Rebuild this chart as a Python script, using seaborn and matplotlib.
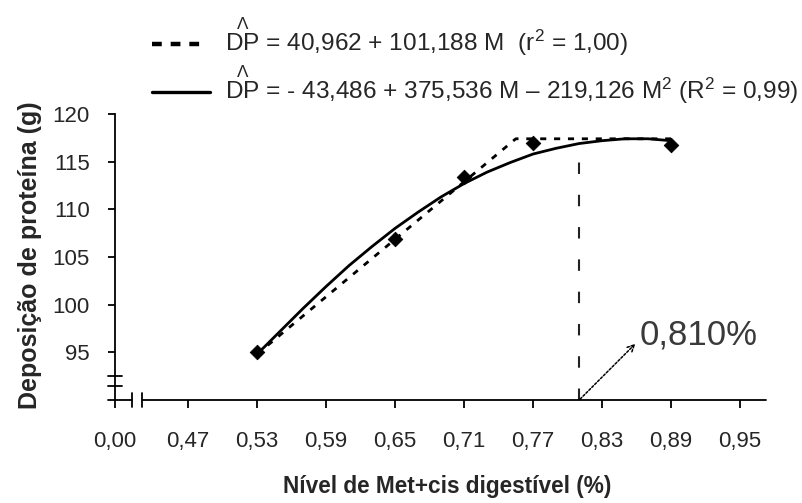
import matplotlib
matplotlib.use("Agg")
import matplotlib.pyplot as plt
from matplotlib.lines import Line2D
import seaborn as sns
import pandas as pd

# ---- data ----
met_obs = [0.53, 0.65, 0.71, 0.77, 0.89]
dp_obs = [95.0, 106.9, 113.4, 117.0, 116.8]

# quadratic fit curve
quad_x = [0.53, 0.55, 0.57, 0.59, 0.61, 0.63, 0.65, 0.67, 0.69, 0.71,
          0.73, 0.75, 0.77, 0.79, 0.81, 0.83, 0.85, 0.87, 0.89]
quad_y = [94.8, 97.2, 99.6, 101.9, 104.1, 106.1, 108.0, 109.7, 111.3, 112.7,
          113.9, 114.9, 115.8, 116.4, 116.9, 117.2, 117.4, 117.4, 117.2]

# linear-plateau fit (dashed line vertices)
lrp_x = [0.53, 0.755, 0.89]
lrp_y = [94.8, 117.4, 117.4]

optimum_x = 0.81
optimum_y = 116.9
optimum_label = "0,810%"

xtick_vals = [0.47, 0.53, 0.59, 0.65, 0.71, 0.77, 0.83, 0.89, 0.95]
xtick_labels = ["0,47", "0,53", "0,59", "0,65", "0,71", "0,77", "0,83", "0,89", "0,95"]
zero_label = "0,00"
ytick_vals = [95, 100, 105, 110, 115, 120]
ytick_labels = ["95", "100", "105", "110", "115", "120"]

eq1 = r"$\overset{\Lambda}{\mathrm{DP}}$ = 40,962 + 101,188 M  (r$^{2}$ = 1,00)"
eq2 = r"$\overset{\Lambda}{\mathrm{DP}}$ = - 43,486 + 375,536 M – 219,126 M$^{2}$ (R$^{2}$ = 0,99)"
ylabel = "Deposição de proteína (g)"
xlabel = "Nível de Met+cis digestível (%)"

# ---- style ----
sns.set_theme(style="white")
plt.rcParams["font.family"] = ["Liberation Sans", "DejaVu Sans"]
plt.rcParams["mathtext.fontset"] = "custom"
plt.rcParams["mathtext.rm"] = "Liberation Sans"
plt.rcParams["mathtext.it"] = "Liberation Sans:italic"
plt.rcParams["mathtext.bf"] = "Liberation Sans:bold"

W, H = 803, 503
fig = plt.figure(figsize=(W / 100, H / 100), dpi=100)
ax = fig.add_axes([115 / W, (H - 400) / H, (766 - 115) / W, (400 - 114) / H])

XMIN, XMAX = 0.4065, 0.9726
YMIN, YMAX = 90, 120
ax.set_xlim(XMIN, XMAX)
ax.set_ylim(YMIN, YMAX)

df_q = pd.DataFrame({"x": quad_x, "y": quad_y})
df_l = pd.DataFrame({"x": lrp_x, "y": lrp_y})
df_o = pd.DataFrame({"x": met_obs, "y": dp_obs})

sns.lineplot(data=df_q, x="x", y="y", ax=ax, color="black", lw=2.0,
             sort=False, zorder=3)
sns.lineplot(data=df_l, x="x", y="y", ax=ax, color="black", lw=2.0,
             sort=False, zorder=3, dashes=False)
ax.lines[-1].set_dashes((2.2, 2.8))
sns.scatterplot(data=df_o, x="x", y="y", ax=ax, color="black", marker="D",
                s=55, edgecolor="black", zorder=4)

# vertical dashed line at optimum
ax.plot([optimum_x, optimum_x], [YMIN, optimum_y], color="#222222", lw=1.5,
        dashes=(5.5, 10), zorder=2)
# arrow + label
ax.annotate("", xy=(optimum_x + 0.049, 95.9), xytext=(optimum_x + 0.001, YMIN + 0.1),
            arrowprops=dict(arrowstyle="->", color="black", lw=1.1,
                            linestyle=(0, (1.5, 1.2)), shrinkA=0, shrinkB=0,
                            mutation_scale=12))
ax.text(optimum_x + 0.053, 96.8, optimum_label, fontsize=25, color="#3a3a3a",
        ha="left", va="center")

# spines / axes
for s in ["top", "right", "bottom"]:
    ax.spines[s].set_visible(False)
ax.spines["left"].set_color("black")
ax.spines["left"].set_linewidth(1.3)

ax.set_yticks(ytick_vals)
ax.set_yticklabels(ytick_labels)
ax.set_xticks([XMIN] + xtick_vals)
ax.set_xticklabels([zero_label] + xtick_labels)
ax.tick_params(axis="y", direction="out", length=5, width=1.3, color="black",
               labelsize=16, pad=13, left=True)
ax.tick_params(axis="x", direction="out", length=6, width=1.3, color="black",
               labelsize=16, pad=16, bottom=True)
ax.set_xlabel("")
ax.set_ylabel("")
ax.grid(False)

# broken x axis drawn as segments
px = (XMAX - XMIN) / (766 - 115)
trans = ax.get_xaxis_transform()
ax.plot([XMIN - 7 * px, XMIN + 17 * px], [0, 0], color="black", lw=1.3,
        transform=trans, clip_on=False)
ax.plot([XMIN + 27 * px, XMAX], [0, 0], color="black", lw=1.3,
        transform=trans, clip_on=False)
for xb in (XMIN + 17 * px, XMIN + 27 * px):
    ax.plot([xb, xb], [-0.025, 0.025], color="black", lw=1.3,
            transform=trans, clip_on=False)
# break marks on y axis
ytr = ax.get_yaxis_transform()
for yb in (92.55, 91.5):
    ax.plot([-0.011, 0.011], [yb, yb], color="black", lw=1.3,
            transform=ytr, clip_on=False)

# axis titles
fig.text(30 / W, 1 - 255 / H, ylabel, rotation=90, fontsize=18,
         fontweight="bold", ha="center", va="center")
fig.text(447 / W, 1 - 487 / H, xlabel, fontsize=16.3, fontweight="bold",
         ha="center", va="center")

# legend (manual)
fig.add_artist(Line2D([152 / W, 208 / W], [1 - 44 / H, 1 - 44 / H],
                      color="black", lw=3.2, dashes=(2.2, 2.0)))
fig.add_artist(Line2D([152 / W, 210 / W], [1 - 92 / H, 1 - 92 / H],
                      color="black", lw=2.4))
fig.text(225 / W, 1 - 51 / H, eq1, fontsize=17.6, ha="left", va="baseline")
fig.text(225 / W, 1 - 99 / H, eq2, fontsize=17.6, ha="left", va="baseline")

fig.savefig("out.png", dpi=100)
